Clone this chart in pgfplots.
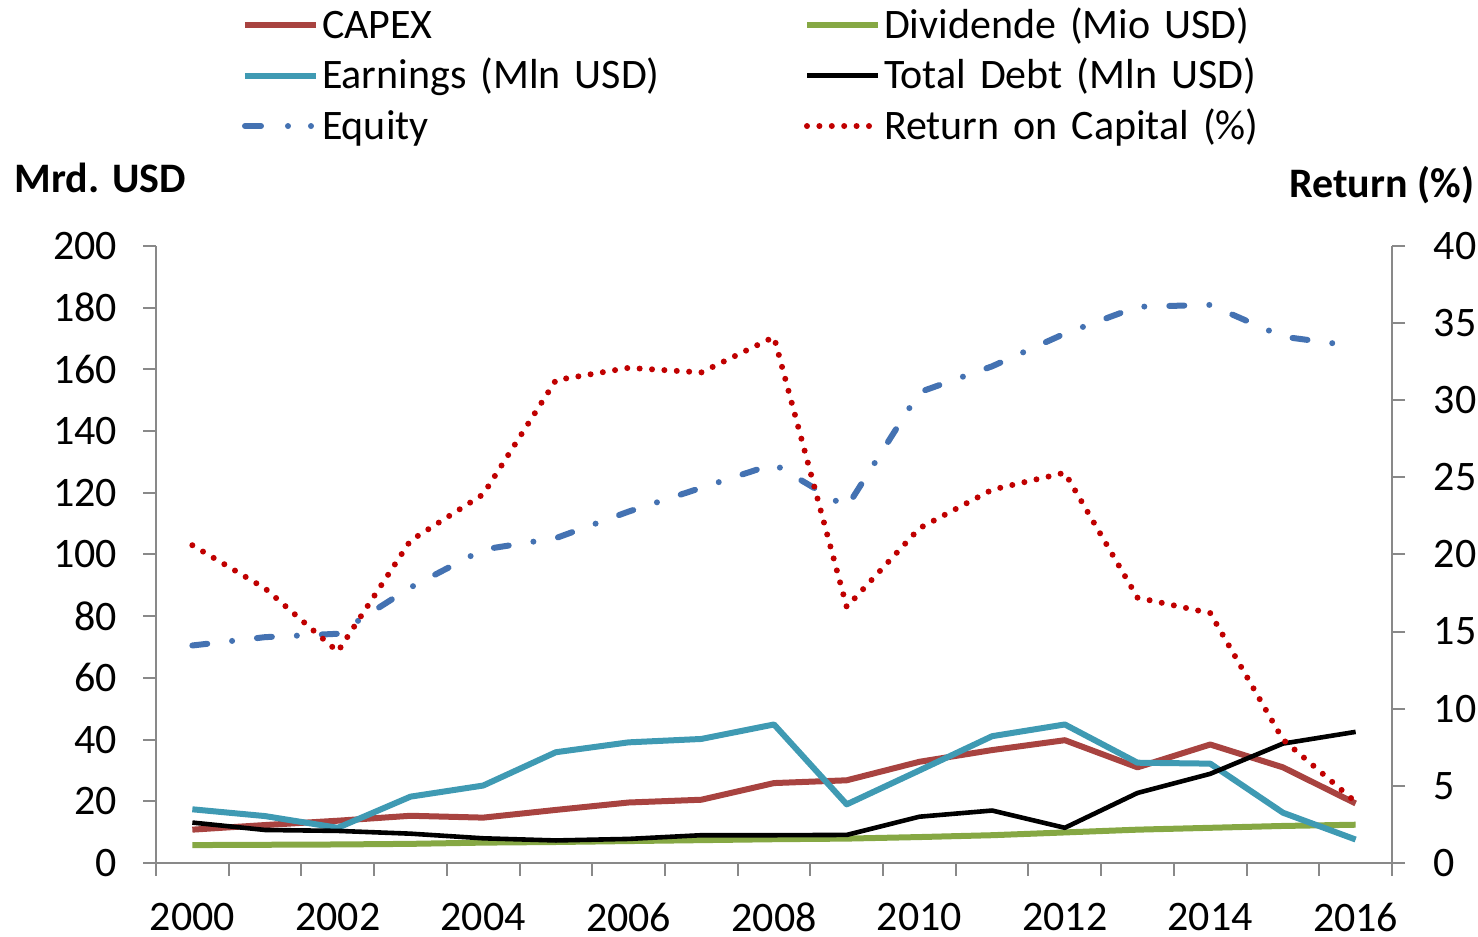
\documentclass[border=0pt]{standalone}
\usepackage{fontspec}
\setmainfont{Carlito}
\usepackage{pgfplots}
\usepackage{pgfplotstable}
\pgfplotsset{compat=1.18}

\definecolor{capexred}{HTML}{A84340}
\definecolor{divgreen}{HTML}{86A844}
\definecolor{earnteal}{HTML}{3F9AB3}
\definecolor{equityblue}{HTML}{4472B2}
\definecolor{rocred}{HTML}{C00000}
\definecolor{axgray}{HTML}{898989}
\newcommand{\cf}{\fontsize{10.5}{12.6}\selectfont}

% values
\pgfplotstableread{
year capex div  earn debt equity roc
2000 10.8  5.8  17.4 13.1 70.5   20.6
2001 12.3  5.9  15.2 10.7 73.2   17.8
2002 13.7  6.0  11.4 10.4 74.3   13.7
2003 15.3  6.2  21.5 9.5  89.3   20.9
2004 14.7  6.6  25.1 8.0  101.6  23.9
2005 17.2  6.8  35.9 7.3  105.3  31.3
2006 19.6  7.1  39.1 7.8  113.9  32.1
2007 20.5  7.4  40.2 9.0  121.6  31.8
2008 25.9  7.7  44.9 9.0  129.3  34.1
2009 26.8  7.9  19.0 9.1  115.3  16.6
2010 32.8  8.4  30.0 15.0 152.6  21.7
2011 36.6  9.0  41.1 17.0 161.0  24.2
2012 39.8  9.9  44.9 11.4 171.6  25.3
2013 31.0  10.8 32.5 22.7 180.3  17.2
2014 38.4  11.4 32.2 28.9 180.9  16.2
2015 31.0  12.0 16.3 38.7 170.6  8.0
2016 19.3  12.4 7.6  42.5 167.5  3.95
}\data

\tikzset{
  s capex/.style={capexred, line width=1.5pt, line join=round},
  s div/.style={divgreen, line width=1.5pt, line join=round},
  s earn/.style={earnteal, line width=1.5pt, line join=round},
  s debt/.style={black, line width=1.15pt, line join=round},
  s equity/.style={equityblue, line width=1.5pt, line cap=round, line join=round,
    dash pattern=on 3.75pt off 6.25pt on 0pt off 6.25pt},
  s equity leg/.style={equityblue, line width=1.5pt, line cap=round,
    dash pattern=on 4pt off 6.75pt on 0pt off 5.75pt on 0pt off 20pt},
  s roc/.style={rocred, line width=1.5pt, line cap=round, line join=round,
    dash pattern=on 0pt off 3.1pt},
}

\pgfplotsset{
  common/.style={
    scale only axis, width=309pt, height=154.25pt,
    at={(0pt,0pt)}, anchor=south west,
    xmin=1999.5, xmax=2016.5, clip=false,
    axis line style={draw=axgray, line width=0.5pt, -},
    every outer x axis line/.append style={-},
    every outer y axis line/.append style={-},
    tick style={draw=axgray, line width=0.5pt},
    major tick length=3.25pt,
    /pgf/number format/assume math mode=true,
    /pgf/number format/1000 sep={},
    tick label style={font=\cf, inner sep=0pt},
  },
}

\begin{document}
\begin{tikzpicture}[font=\cf]
\begin{axis}[common,
  axis x line*=bottom, axis y line*=left, tick align=outside,
  ymin=0, ymax=200, ytick={0,20,...,200},
  xtick={1999.5,2000.5,...,2016.5}, xticklabels={},
  extra x ticks={2000,2002,...,2016},
  extra x tick labels={2000,2002,2004,2006,2008,2010,2012,2014,2016},
  extra x tick style={grid=none, major tick length=0pt},
  xticklabel style={yshift=-9.75pt},
  yticklabel style={xshift=-6.25pt},
]
\addplot[s capex] table[x=year, y=capex] {\data};
\addplot[s div] table[x=year, y=div] {\data};
\addplot[s earn] table[x=year, y=earn] {\data};
\addplot[s debt] table[x=year, y=debt] {\data};
\addplot[s equity] table[x=year, y=equity] {\data};
\node[anchor=base west, font=\cf\bfseries, inner sep=0pt]
  at (axis description cs:-0.11489,1.0859) {Mrd. USD};
\end{axis}

\begin{axis}[common,
  axis x line=none, axis y line*=right, tick align=outside,
  ymin=0, ymax=40, ytick={0,5,...,40},
  yticklabel style={xshift=7pt},
  legend columns=2,
  legend cell align=left,
  legend image code/.code={\draw[#1] (0pt,0pt) -- (17.75pt,0pt);},
  legend style={at={(0.06958,1.3948)}, anchor=north west,
    draw=none, fill=none, inner sep=0pt, outer sep=0pt, row sep=1.08pt,
    nodes={inner sep=0pt, text height=9pt, text depth=2.5pt,
      text width=120.5pt, align=left, font=\cf},
    /tikz/every odd column/.append style={column sep=0.75pt},
    /tikz/every even column/.append style={column sep=0pt}},
]
\addlegendimage{s capex}\addlegendentry{CAPEX}
\addlegendimage{s div}\addlegendentry{Dividende (Mio USD)}
\addlegendimage{s earn}\addlegendentry{Earnings (Mln USD)}
\addlegendimage{s debt}\addlegendentry{Total Debt (Mln USD)}
\addlegendimage{s equity leg}\addlegendentry{Equity}
\addplot[s roc] table[x=year, y=roc] {\data};
\addlegendentry{Return on Capital (\%)}
\node[anchor=base east, font=\cf\bfseries, inner sep=0pt]
  at (axis description cs:1.06715,1.0778) {Return (\%)};
\end{axis}
\pgfresetboundingbox
\path[use as bounding box] (-39pt,-18.5pt) rectangle (330.5pt,215.75pt);
\end{tikzpicture}
\end{document}
